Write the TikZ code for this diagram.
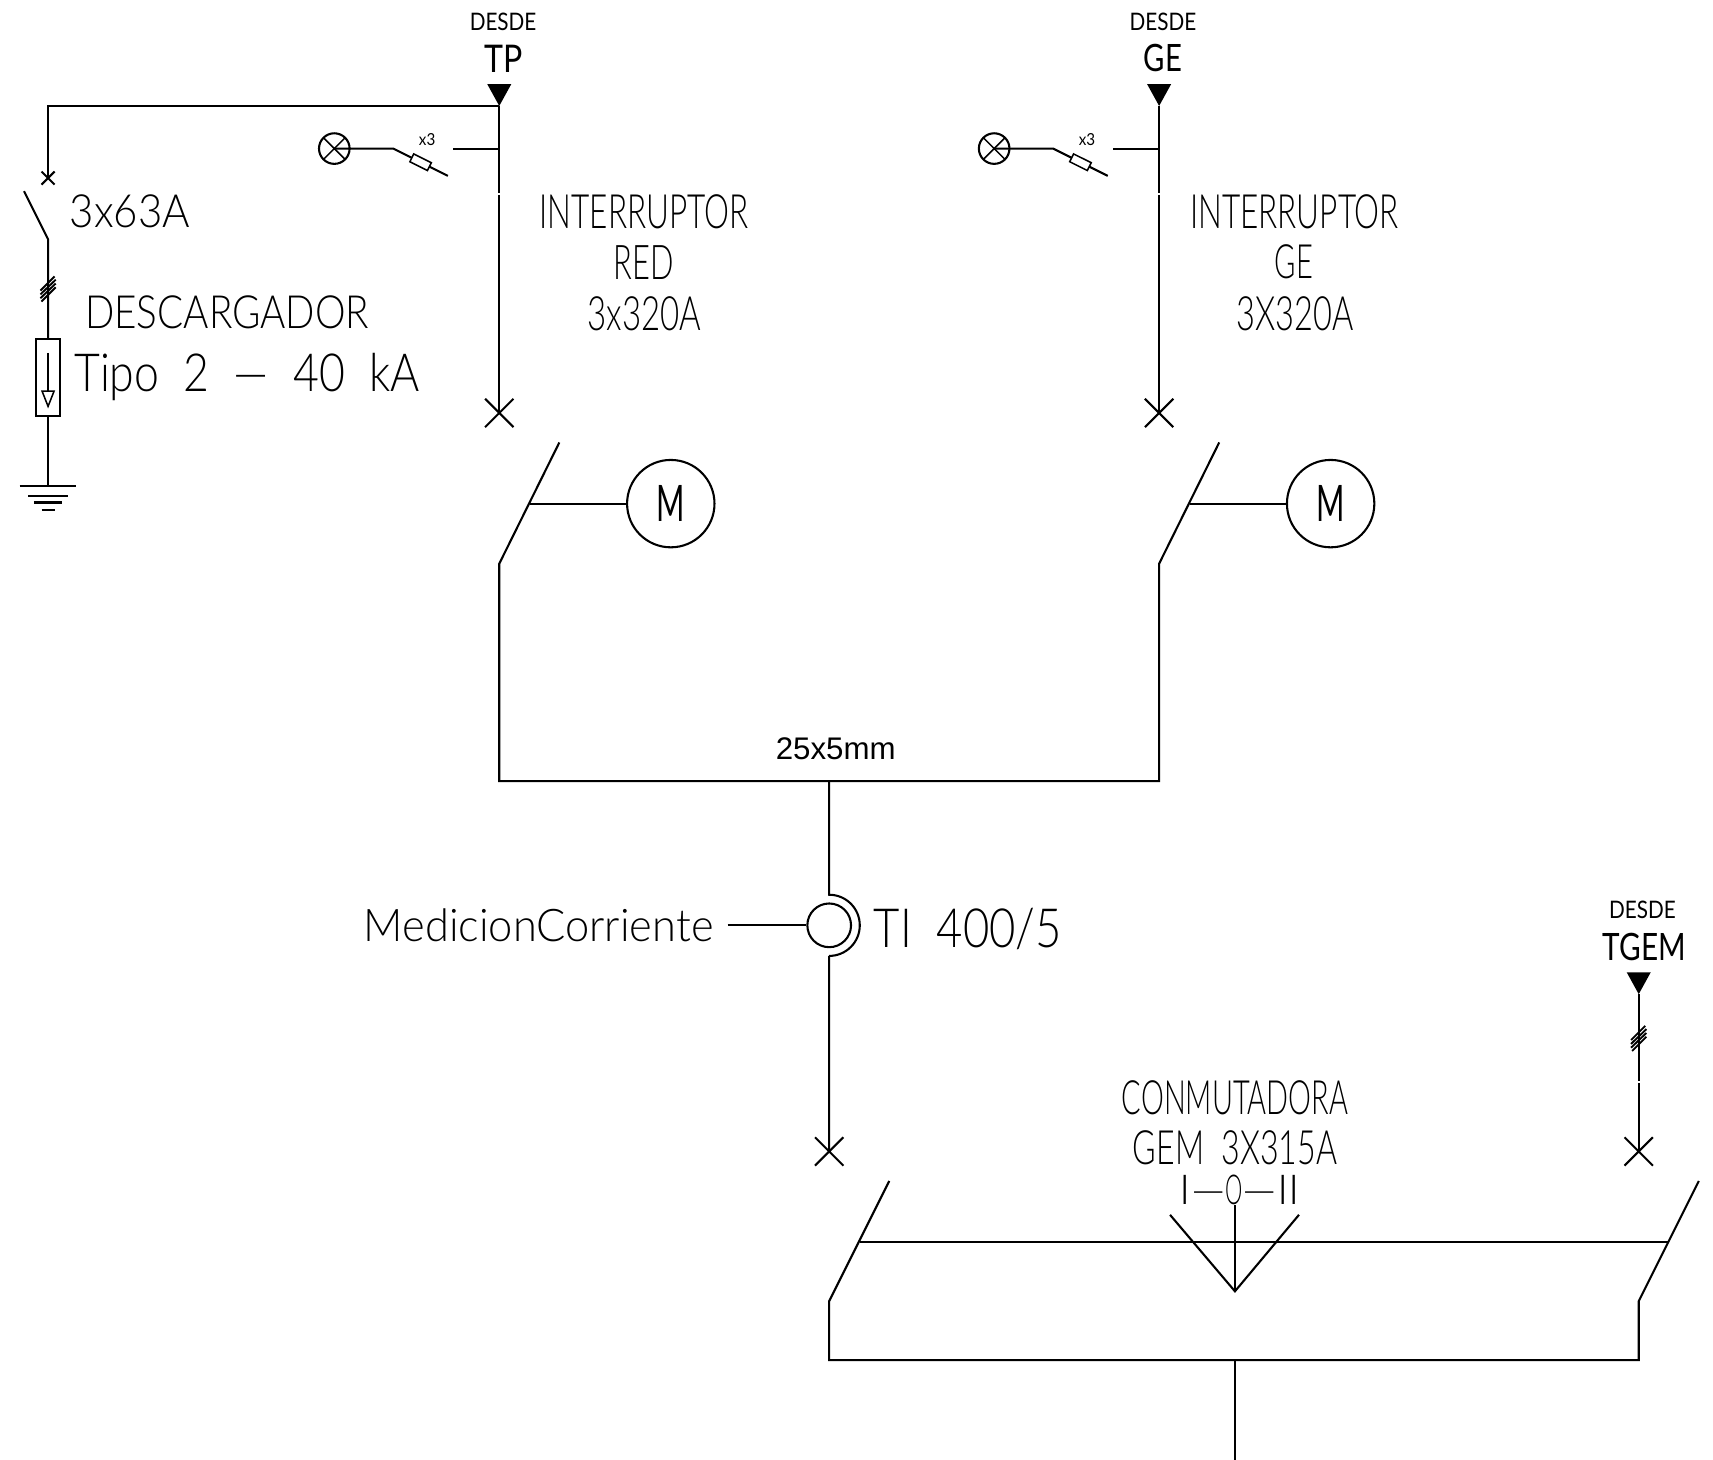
\documentclass[tikz,border=0pt]{standalone}
\usepackage{fontspec}
\usepackage{graphicx}
\setmainfont{Liberation Sans}
\newfontfamily\cad[UprightFont={* Light}]{Lato}
\newfontfamily\cadr{Lato}
\newcommand{\sz}[3]{\resizebox{\dimexpr #1pt/2\relax}{\dimexpr #2pt/2\relax}{\cad #3}}
\newcommand{\szr}[3]{\resizebox{\dimexpr #1pt/2\relax}{\dimexpr #2pt/2\relax}{\cadr #3}}
\tikzset{
  wire/.style={line width=0.95pt,line join=miter},
  thin wire/.style={line width=0.7pt},
  lbl/.style={inner sep=0pt,outer sep=0pt,text=black},
  motor/.style={circle,draw,line width=0.95pt,minimum size=40pt,inner sep=0pt},
  lamp/.style={circle,draw,line width=0.95pt,minimum size=14pt,inner sep=0pt},
  cross/.pic={\draw[wire] (-13,-13) -- (13,13) (-13,13) -- (13,-13);},
  feed/.pic={\fill (-11,-20) -- (11,-20) -- (0,0) -- cycle;},
  slashes/.pic={\draw[line width=0.85pt] (-7,1) -- (6,-12) (-7,4.5) -- (7,-9) (-7,8) -- (7,-5.5) (-6,11) -- (7,-2);},
  lampfuse/.pic={
    \node[lamp] (lampn) at (-151,0) {};
    \draw[thin wire] (-161,-10) -- (-141,10) (-161,10) -- (-141,-10);
    \draw[wire] (-151,0) -- (-97,0) -- (-47,25);
    \draw[thin wire,fill=white,rotate around={-26.5:(-72,12.5)}] (-81,8.5) rectangle (-63,16.5);
    \draw[wire] (-42,0) -- (0,0);
  },
}
\begin{document}
\begin{tikzpicture}[x=0.5pt,y=-0.5pt]
\useasboundingbox (0,0) rectangle (1568,1336);
% key coordinates
\coordinate (tp) at (457,97);
\coordinate (ge) at (1061,97);
\coordinate (tgem) at (1500,910);
\coordinate (busL) at (457,715);
\coordinate (busR) at (1061,715);
\coordinate (busT) at (759,715);
\coordinate (ctT) at (759,819);
\coordinate (ctB) at (759,875);
\coordinate (ctC) at (759,847);
\coordinate (swL) at (759,1245);
\coordinate (swR) at (1500,1245);
\coordinate (swM) at (1130.4,1245);
\coordinate (out) at (1130.4,1336);

% Descargador branch
\draw[wire] (tp) -- (44,97) -- (44,163);
\draw[wire] (38,157) -- (50,169) (38,169) -- (50,157);
\draw[wire] (22,175) -- (44,219) -- (44,310);
\pic at (44,265) {slashes};
\draw[wire] (33,310) rectangle (54.5,381);
\draw[wire] (44,323) -- (44,358);
\draw[thin wire] (38.5,358) -- (49.5,358) -- (44,372) -- cycle;
\draw[wire] (44,381) -- (44,445);
\draw[wire] (18,445) -- (70,445) (26,454) -- (62,454) (31,460) -- (57,460) (38,467) -- (50,467);

% TP feeder
\pic at (tp) {feed};
\draw[wire] (tp) -- (457,176.5) (457,178.5) -- (457,378);
\pic at (457,378) {cross};
\pic at (457,136) {lampfuse};
\draw[wire] (512,405) -- (457,516) -- (busL) -- (busR) -- (1061,516) -- (1116,405);
\node[motor] (m1) at (614,461) {};
\draw[wire] (485,461) -- (m1.west);
\node[lbl] (m1t) at (614,461) {\szr{26}{33}{M}};

% GE feeder
\pic at (ge) {feed};
\draw[wire] (ge) -- (1061,176.5) (1061,178.5) -- (1061,378);
\pic at (1061,378) {cross};
\pic at (1061,136) {lampfuse};
\node[motor] (m2) at (1218,461) {};
\draw[wire] (1089,461) -- (m2.west);
\node[lbl] (m2t) at (1218,461) {\szr{26}{33}{M}};

% CT
\draw[wire] (busT) -- (ctT) arc[start angle=-90,end angle=90,radius=28] (ctB) -- (759,1054);
\node[circle,draw,line width=0.95pt,minimum size=20pt,inner sep=0pt] (ct) at (ctC) {};
\coordinate (ctlead) at (666,847);
\draw[wire] (ctlead) -- (ct.west);
\pic at (759,1054) {cross};

% TGEM
\pic at (tgem) {feed};
\draw[wire] (tgem) -- (1500,989.5) (1500,991.5) -- (1500,1054);
\pic at (1500,951) {slashes};
\pic at (1500,1054) {cross};

% Conmutadora
\draw[wire] (814,1081) -- (759,1191) -- (swL) -- (swR) -- (1500,1191) -- (1555,1081);
\draw[wire] (787,1136.5) -- (1527,1136.5);
\draw[wire] (1071,1112) -- (1130.4,1182) -- (1189,1112);
\draw[wire] (1130.4,1103) -- (1130.4,1182);
\draw[wire] (swM) -- (out);

% Labels
\node[lbl] (t1) at (460.5,20) {\szr{61}{16}{DESDE}};
\node[lbl] (t2) at (461,53.5) {\szr{35}{25}{TP}};
\node[lbl] (t3) at (1064.5,20) {\szr{61}{16}{DESDE}};
\node[lbl] (t4) at (1064.5,53.5) {\szr{35}{25}{GE}};
\node[lbl] (t5) at (1503.5,833) {\szr{61}{16}{DESDE}};
\node[lbl] (t6) at (1505,867) {\szr{76}{25}{TGEM}};
\node[lbl] (t7) at (119,193) {\sz{110}{30}{3x63A}};
\node[lbl] (t8) at (208,286) {\sz{260}{30}{DESCARGADOR}};
\node[lbl] (t9) at (226,345.5) {\sz{316}{35}{Tipo\ \ 2\ \ —\ \ 40\ \ kA}};
\node[lbl] (t10) at (391,128) {\szr{15}{11}{x3}};
\node[lbl] (t11) at (995,128) {\szr{15}{11}{x3}};
\node[lbl] (t12) at (589.5,194) {\sz{191}{31}{INTERRUPTOR}};
\node[lbl] (t13) at (589.5,240) {\sz{55}{31}{RED}};
\node[lbl] (t14) at (590,287) {\sz{104}{31}{3x320A}};
\node[lbl] (t15) at (1185,194) {\sz{191}{31}{INTERRUPTOR}};
\node[lbl] (t16) at (1184.5,240) {\sz{35}{31}{GE}};
\node[lbl] (t17) at (1185.5,287) {\sz{107}{31}{3X320A}};
\node[lbl] (t18) at (765,685) {\fontsize{14.3}{16}\selectfont 25x5mm};
\node[lbl] (t19) at (493,847) {\sz{320}{30}{MedicionCorriente}};
\node[lbl] (t20) at (886,850) {\sz{172}{36}{TI\ \ 400/5}};
\node[lbl] (t21) at (1130.5,1005) {\sz{207}{31}{CONMUTADORA}};
\node[lbl] (t22) at (1130.5,1051) {\sz{187}{31}{GEM\ \ 3X315A}};
\node[lbl] (t23) at (1135,1089) {\sz{110}{27}{I—\scalebox{.5}[1]{O}—II}};
\end{tikzpicture}
\end{document}
